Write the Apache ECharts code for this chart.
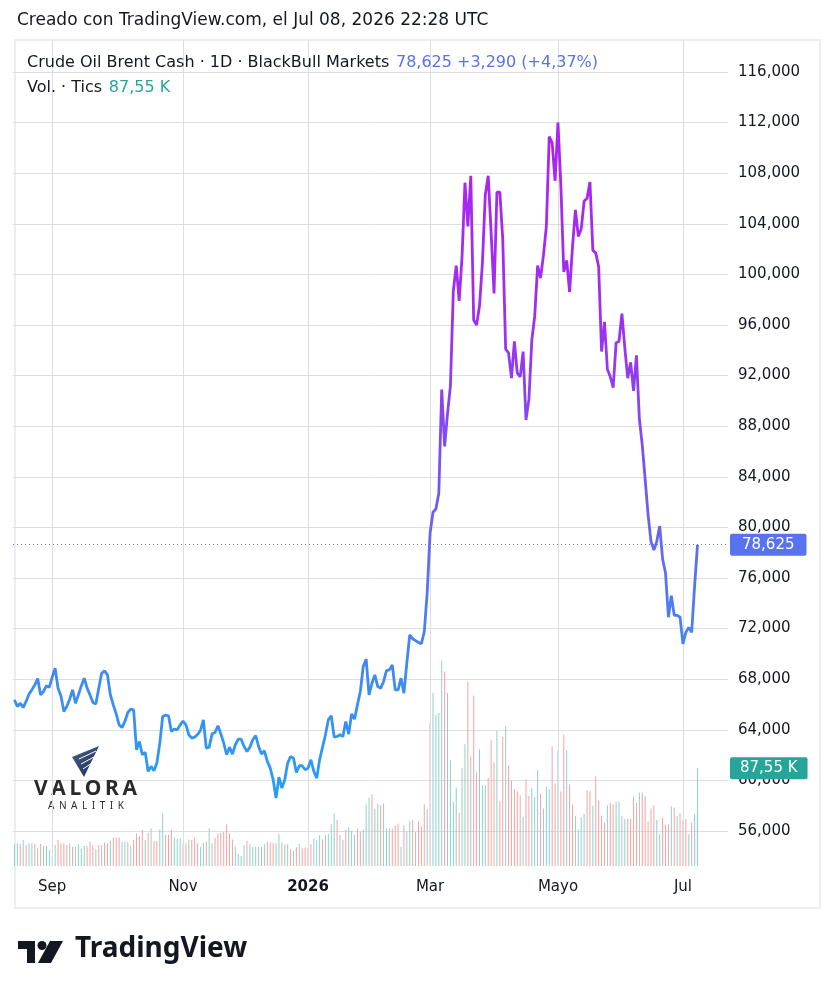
<!DOCTYPE html>
<html>
<head>
<meta charset="utf-8">
<script src="https://cdn.jsdelivr.net/npm/echarts@6/dist/echarts.min.js"></script>
<style>
html, body { margin: 0; padding: 0; background: #fff; }
#chart { width: 834px; height: 998px; }
</style>
</head>
<body>
<div id="chart"></div>
<script>
// Brent cash, daily closes (Aug 13 2025 .. Jul 8 2026, weekdays)
var startDay = '2025-08-13';
var padDays = 10; // empty bars on the right of the last close

var priceA = [66.37,65.84,66.1,65.76,66.24,66.82,67.16,67.55,68.05,66.76,67.03,67.47,67.37,
  68.16,68.87,67.29,66.68,65.45,65.84,66.42,67.16,66.1,66.76,67.47,68.08,67.29,66.76,66.16,66.03,
  67.29,68.47,68.66,68.34,66.76,65.97,65.26,64.39,64.18,64.66,65.37,65.63,65.58,62.42,63.08,62.03,
  62.21,60.71,61.11,60.76,61.37,62.95,65.05,65.16,65.11,63.87,64.05,64.0,64.39,64.68,64.39,63.61,
  63.34,63.42,63.63,63.95,64.79,62.55,62.63,63.68,63.79,64.32,63.68,62.95,62.03,62.63,62.08,62.82,
  63.26,63.26,62.68,62.29,62.63,63.21,63.55,62.68,62.08,62.34,61.5,60.97,60.05,58.61,60.26,59.39,
  60.05,61.37,61.89,61.76,60.63,61.16,61.16,60.84];
var priceB = [60.97,61.63,60.71,60.18,61.63,62.63,63.61,64.79,65.11,63.42,63.47,63.61,63.47,64.66,
  63.66,65.26,64.84,65.97,67.03,69.0,69.58,66.76,67.68,68.34,67.42,67.29,67.82,68.68,68.74,69.13,
  67.16,67.16,68.08,66.89,
  69.3,71.5,71.2,71.05,70.9,70.8,71.75,74.8,79.55,81.2,
  81.45,82.7,90.9,86.4,89.0,91.2,98.7,100.7,97.9,101.4,
  107.25,103.8,107.8,96.4,96.0,97.5,100.9,106.3,107.8,103.3,
  98.5,106.5,106.5,102.8,94.1,93.8,91.8,94.7,92.2,91.9,
  93.9,88.5,90.1,94.8,96.7,100.7,99.7,101.5,103.8,110.9,
  110.4,107.4,112.0,107.0,100.2,101.1,98.6,102.2,105.1,103.0,
  103.6,105.8,106.0,107.3,101.9,101.7,100.6,93.9,96.25,92.5,
  91.9,91.05,94.6,94.7,96.9,94.2,91.8,93.05,90.8,
  93.6,88.6,86.5,83.8,81.0,78.9,78.2,78.9,80.1,77.5,
  76.4,72.9,74.6,73.05,73.05,72.9,70.8,71.7,72.1,71.7,75.335,78.625];

// volume in thousands of ticks, and whether the bar was an up bar
var volA = [20.0,20.3,19.7,23.2,18.8,20.3,20.3,19.7,15.8,19.7,
  17.9,17.9,14.3,8.9,18.8,23.2,20.3,20.3,18.8,20.3,
  17.3,17.3,19.7,15.2,17.9,17.9,21.7,18.8,14.9,18.5,
  18.8,20.9,20.3,22.6,25.6,25.6,25.6,21.7,21.7,21.7,
  17.9,23.2,29.2,26.8,32.2,23.2,29.8,33.7,22.3,22.3,
  32.8,47.1,27.7,27.7,32.2,25.6,24.7,24.7,20.3,20.3,
  23.8,23.2,25.3,20.3,17.3,20.9,21.7,33.7,20.3,25.0,
  29.2,29.8,30.7,37.5,29.2,23.8,17.3,10.7,8.9,18.8,
  22.3,19.4,17.3,17.3,17.3,17.3,19.4,21.7,20.9,20.3,
  20.3,28.6,20.9,19.4,19.4,14.9,13.4,16.7,19.7,15.8,
  16.5];
var volB = [15.8,19.7,24.7,23.2,27.7,23.8,27.7,28.6,37.5,47.1,
  41.1,27.7,23.2,32.2,34.6,31.6,27.7,33.7,30.7,32.8,
  55.4,61.4,64.3,51.5,56.0,54.5,56.0,33.7,33.7,33.7,
  36.6,38.1,17.3,36.6,30.7,40.2,41.1,30.7,40.2,35.2,
  55.4,50.9,128.1,154.9,135.8,137.0,184.1,174.3,154.9,94.7,
  57.5,70.0,47.7,87.9,109.0,165.3,98.3,152.8,84.0,104.6,
  72.4,72.4,78.9,112.6,92.9,120.9,58.1,115.6,125.1,90.3,
  76.3,68.8,67.0,63.4,44.1,77.7,62.9,70.0,61.9,85.8,
  64.9,51.5,70.9,68.8,107.2,73.9,103.7,67.0,117.7,103.7,
  73.3,55.1,44.7,32.8,43.5,46.5,67.9,67.0,53.9,80.4,
  59.0,45.0,38.7,54.5,56.9,55.4,57.5,58.1,44.7,42.0,
  42.6,42.0,61.9,56.9,65.9,65.9,62.6,40.2,51.5,54.5,
  41.1,28.6,43.5,36.6,37.5,53.6,52.4,44.7,47.1,41.1,
  42.0,28.6,39.0,46.5,87.55];
var upA = [1,1,0,1,0,1,1,0,1,0, 1,1,1,1,1,0,0,0,0,1, 0,1,1,1,1,0,0,0,1,0, 1,0,0,1,0,0,0,1,1,0,
  1,0,0,0,0,1,0,1,0,0, 1,1,0,0,0,1,1,1,0,0, 1,0,0,0,1,1,0,1,1,0, 0,0,0,0,0,0,1,1,1,1,
  0,1,1,1,1,0,1,0,0,0, 1,1,0,1,1,0,1,0,1,0, 0];
var upB = [0,0,1,1,1,0,1,1,1,1, 0,1,0,0,1,1,1,0,0,1, 1,1,0,1,1,0,1,1,1,0, 0,0,1,0,1,1,0,1,0,0,
  0,1,0,1,1,1,1,0,1,1, 1,1,0,1,1,0,1,0,0,1, 1,1,0,0,0,1,0,0,1,0, 0,0,0,0,1,0,0,1,1,1,
  0,1,1,1,0,0,1,0,0,1, 0,0,1,1,1,1,0,0,1,0, 0,0,0,1,0,0,1,1,1,1, 0,0,0,0,1,0,0,0,0,0,
  1,1,0,0,0,1,0,1,0,0, 0,1,0,1,1];

var monthTicks = [8, 10, 0, 2, 4, 6];
var monthNames = ['Sep', 'Nov', '2026', 'Mar', 'Mayo', 'Jul'];
var priceMin = 56, priceMax = 116, priceStep = 4;
var volMax = 740;
var lastPrice = 78.625, lastVol = 87.55;

var prices = priceA.concat(priceB);
var vols = volA.concat(volB);
var ups = upA.concat(upB);

// weekday calendar for the category axis
var days = [];
var d = new Date(startDay + 'T00:00:00Z');
while (days.length < prices.length + padDays) {
  var wd = d.getUTCDay();
  if (wd !== 0 && wd !== 6) days.push(d.toISOString().slice(0, 10));
  d.setUTCDate(d.getUTCDate() + 1);
}
var monthLabel = {};
for (var i = 1; i < days.length; i++) {
  var m = +days[i].slice(5, 7) - 1;
  if (m !== +days[i - 1].slice(5, 7) - 1 && monthTicks.indexOf(m) >= 0) {
    monthLabel[days[i]] = monthNames[monthTicks.indexOf(m)];
  }
}

function fmt(v, n) { return v.toFixed(n).replace('.', ','); }

var FONT = 'DejaVu Sans';
var TXT = '#131722';
var GRID = '#dcdee3';
var BLUE = '#5872f0';
var TEAL = '#26a69a';

var gl = 13, gr = 106;

// letter-spaced watermark words, spread over a given width
var ctx = document.createElement('canvas').getContext('2d');
function spaced(word, font, x0, x1, top) {
  ctx.font = font;
  var ws = word.split('').map(function (c) { return ctx.measureText(c).width; });
  var total = ws.reduce(function (a, b) { return a + b; }, 0);
  var gap = (x1 - x0 - total) / (ws.length - 1);
  var x = x0, out = [];
  word.split('').forEach(function (c, k) {
    out.push({ type: 'text', left: x, top: top, z: 1, style: { text: c, font: font, fill: '#2a2a2a' } });
    x += ws[k] + gap;
  });
  return out;
}
var logo = spaced('VALORA', 'bold 21px "Noto Sans"', 34, 137, 779)
  .concat(spaced('ANALITIK', '10px "Noto Sans"', 48, 124, 801));

var chart = echarts.init(document.getElementById('chart'), null, { renderer: 'canvas' });
chart.setOption({
  animation: false,
  backgroundColor: '#fff',
  textStyle: { fontFamily: FONT },
  graphic: [
    { type: 'rect', shape: { x: 15, y: 40, width: 805, height: 868 }, z: -1,
      style: { fill: 'none', stroke: '#eceef1', lineWidth: 2 } },
    { type: 'text', left: 17, top: 12,
      style: { text: 'Creado con TradingView.com, el Jul 08, 2026 22:28 UTC', font: '17px "' + FONT + '"', fill: TXT } },
    { type: 'text', left: 27, top: 55, z: 10,
      style: { text: '{a|Crude Oil Brent Cash · 1D · BlackBull Markets}  {b|' + fmt(lastPrice, 3) + ' +3,290 (+4,37%)}',
        rich: { a: { font: '16px "' + FONT + '"', fill: TXT }, b: { font: '16px "' + FONT + '"', fill: BLUE } } } },
    { type: 'text', left: 27, top: 80, z: 10,
      style: { text: '{a|Vol. · Tics}  {b|' + fmt(lastVol, 2) + ' K}',
        rich: { a: { font: '16px "' + FONT + '"', fill: TXT }, b: { font: '16px "' + FONT + '"', fill: TEAL } } } },
    // Valora Analitik watermark
    { type: 'polygon', z: 1, shape: { points: [[72, 757], [99, 746], [84, 777]] },
      style: { fill: new echarts.graphic.LinearGradient(0, 0, 1, 1, [
        { offset: 0, color: '#4a5f8c' }, { offset: 1, color: '#1d2f55' }]) } },
    { type: 'polyline', z: 2, shape: { points: [[79, 759], [96, 751]] }, style: { stroke: '#fff', lineWidth: 1 } },
    { type: 'polyline', z: 2, shape: { points: [[81, 764], [94, 757]] }, style: { stroke: '#fff', lineWidth: 1 } },
    { type: 'polyline', z: 2, shape: { points: [[83, 769], [92, 763]] }, style: { stroke: '#fff', lineWidth: 1 } }
  ].concat(logo).concat([
    // TradingView logo
    { type: 'rect', shape: { x: 18, y: 941, width: 17, height: 8 }, style: { fill: TXT } },
    { type: 'rect', shape: { x: 27, y: 941, width: 8, height: 22 }, style: { fill: TXT } },
    { type: 'circle', shape: { cx: 42, cy: 945.5, r: 4.5 }, style: { fill: TXT } },
    { type: 'polygon', shape: { points: [[50, 941], [63, 941], [51, 963], [38, 963]] }, style: { fill: TXT } },
    { type: 'text', left: 75, top: 935,
      style: { text: 'TradingView', font: 'bold 28px "Noto Sans"', fill: TXT } }
  ]),
  grid: [
    { left: gl, right: gr, top: 72, bottom: 998 - 831 },
    { left: gl, right: gr, top: 40, bottom: 998 - 866 }
  ],
  visualMap: {
    show: false, type: 'continuous', seriesIndex: 0, dimension: 1, min: 60, max: 110,
    inRange: { color: ['#2b9cf3', '#4a80f1', '#7a52f0', '#a22cf0', '#aa26f0'] }
  },
  xAxis: [
    { type: 'category', gridIndex: 0, data: days, boundaryGap: true, show: false },
    { type: 'category', gridIndex: 1, data: days, boundaryGap: true,
      axisLine: { show: false }, axisTick: { show: false }, splitLine: { show: false },
      axisLabel: {
        margin: 14, fontSize: 15, color: TXT, fontFamily: FONT,
        interval: function (idx, val) { return monthLabel[val] !== undefined; },
        formatter: function (val) {
          var t = monthLabel[val] || '';
          return t === '2026' ? '{y|' + t + '}' : t;
        },
        rich: { y: { fontWeight: 'bold', fontSize: 15, color: TXT, fontFamily: FONT } }
      } }
  ],
  yAxis: [
    { type: 'value', gridIndex: 0, position: 'right', min: priceMin, max: priceMax, interval: priceStep,
      axisLine: { show: false }, axisTick: { show: false },
      splitLine: { lineStyle: { color: GRID, width: 1 } },
      axisLabel: { margin: 10, fontSize: 15, color: TXT, fontFamily: FONT,
        formatter: function (v) { return fmt(v, 3); } } },
    { type: 'value', gridIndex: 1, min: 0, max: volMax, show: false }
  ],
  series: [
    {
      type: 'line', xAxisIndex: 0, yAxisIndex: 0, z: 5,
      data: prices, showSymbol: false, symbol: 'none',
      lineStyle: { width: 2.8 },
      markLine: {
        silent: true, symbol: 'none',
        data: [{ yAxis: lastPrice }],
        lineStyle: { type: [1, 3], color: BLUE, width: 1 },
        label: { show: true, position: 'end', distance: 2, formatter: fmt(lastPrice, 3),
          color: '#fff', backgroundColor: BLUE, padding: [4, 12, 3, 12], fontSize: 15,
          fontFamily: FONT, borderRadius: 2 }
      }
    },
    {
      type: 'bar', xAxisIndex: 1, yAxisIndex: 1, z: 2, barWidth: 1,
      data: vols.map(function (v, k) {
        return { value: v, itemStyle: { color: ups[k] ? '#8fd1ca' : '#f5a3a1' } };
      }),
      markLine: {
        silent: true, symbol: 'none',
        data: Object.keys(monthLabel).map(function (k) {
          return { xAxis: k, lineStyle: { color: GRID, width: 1, type: 'solid' }, label: { show: false } };
        }).concat([{
          yAxis: lastVol, lineStyle: { color: 'rgba(0,0,0,0)', width: 1 },
          label: { show: true, position: 'end', distance: 2, formatter: fmt(lastVol, 2) + ' K',
            color: '#fff', backgroundColor: TEAL, padding: [4, 10, 3, 10], fontSize: 15,
            fontFamily: FONT, borderRadius: 2 }
        }])
      }
    }
  ]
});
</script>
</body>
</html>
